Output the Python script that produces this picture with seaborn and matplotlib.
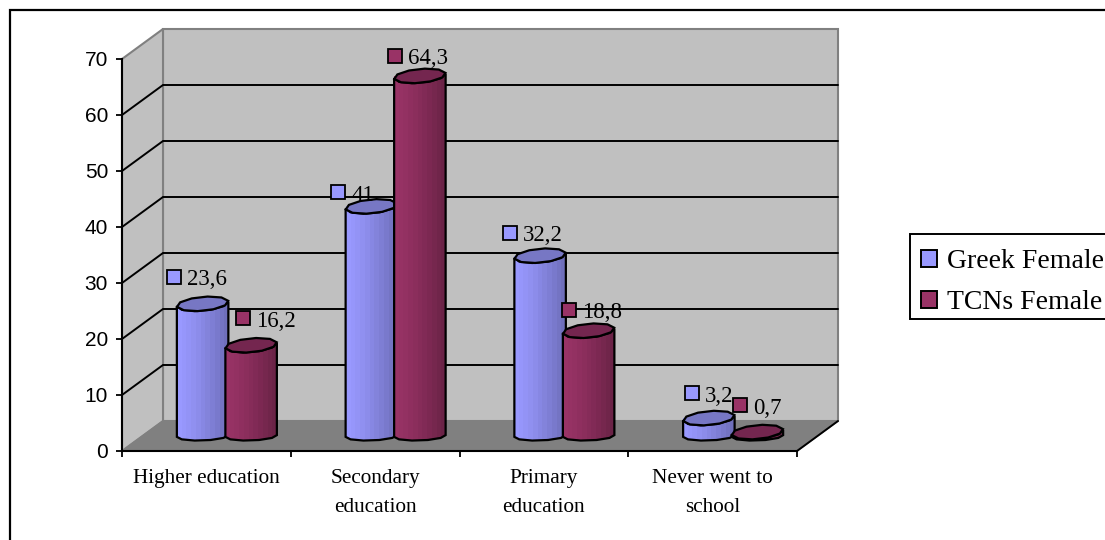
import numpy as np
import pandas as pd
import matplotlib
matplotlib.use("Agg")
import matplotlib.pyplot as plt
from matplotlib.patches import Polygon, Rectangle, Patch
from matplotlib.transforms import Affine2D
from matplotlib.colors import to_rgb
import seaborn as sns

# Education level of women, percent
categories = ["Higher education", "Secondary\neducation", "Primary\neducation", "Never went to\nschool"]
greek_female = [23.6, 41, 32.2, 3.2]
tcn_female = [16.2, 64.3, 18.8, 0.7]
series_names = ["Greek Female", "TCNs Female"]
value_labels = [["23,6", "41", "32,2", "3,2"], ["16,2", "64,3", "18,8", "0,7"]]
y_ticks = [0, 10, 20, 30, 40, 50, 60, 70]

# Placement of the value keys relative to each cylinder's top centre, in pixels
key_offsets = [[(-29, 27), (-33, 14), (-30, 23), (-17, 25)],
               [(-8, 27), (-25, 20), (-20, 21), (-17, 27)]]

W, H, DPI = 1105, 540, 100
LEFT, RIGHT, BASE, TOP = 122, 797, 451, 59
SERIF = "Liberation Serif"

sns.set_theme(style="white", rc={"axes.facecolor": "none"})
fig = plt.figure(figsize=(W / DPI, H / DPI), dpi=DPI, facecolor="white")
ax = fig.add_axes([LEFT / W, 1 - BASE / H, (RIGHT - LEFT) / W, (BASE - TOP) / H])

# Chart frame, running off the right and bottom of the canvas
fig.add_artist(Rectangle((10 / W, -0.1), 1.2, 1.1 - 10 / H, transform=fig.transFigure,
                         fill=False, ec="black", lw=1.6, zorder=-5))

frame = pd.DataFrame({
    "category": categories * 2,
    "series": np.repeat(series_names, len(categories)),
    "value": greek_female + tcn_female,
})
palette = {series_names[0]: "#9999FF", series_names[1]: "#993366"}
shades = {series_names[0]: ("#9999FF", "#6F6FBB", "#7777C4"),
          series_names[1]: ("#993366", "#6B2347", "#74264F")}

# Depth of the box in data units
px_x = 4 / (RIGHT - LEFT)
px_y = 70 / (BASE - TOP)
depth_x, depth_y = 41 * px_x, 30 * px_y
mid_x, mid_y = depth_x / 2, depth_y / 2

sns.barplot(data=frame, x="category", y="value", hue="series", order=categories,
            hue_order=series_names, palette=palette, width=0.575, gap=0, saturation=1,
            bottom=mid_y, linewidth=0, ax=ax, legend=False, zorder=3)
ax.set_xlim(-0.5, 3.5)
ax.set_ylim(0, 70)

# Walls and floor of the box
x0, x1 = -0.5, 3.5
wall = "#C0C0C0"
ax.add_patch(Polygon([(x0 + depth_x, depth_y), (x1 + depth_x, depth_y), (x1 + depth_x, 70 + depth_y),
                      (x0 + depth_x, 70 + depth_y)], fc=wall, ec="#808080", lw=1.5, clip_on=False, zorder=0))
ax.add_patch(Polygon([(x0, 0), (x0 + depth_x, depth_y), (x0 + depth_x, 70 + depth_y), (x0, 70)],
                     fc=wall, ec="#808080", lw=1.5, clip_on=False, zorder=0))
ax.add_patch(Polygon([(x0, 0), (x1, 0), (x1 + depth_x, depth_y), (x0 + depth_x, depth_y)],
                     fc="#808080", ec="#808080", lw=1, clip_on=False, zorder=0))
for tick in y_ticks[1:-1]:
    ax.plot([x0, x0 + depth_x, x1 + depth_x], [tick, tick + depth_y, tick + depth_y],
            color="black", lw=1.4, clip_on=False, zorder=1, solid_joinstyle="miter")
ax.plot([x1, x1 + depth_x], [0, depth_y], color="black", lw=1.4, clip_on=False, zorder=1)


def mix(a, b, t):
    return tuple((1 - t) * np.array(to_rgb(a)) + t * np.array(to_rgb(b)))


def ring(cx, cy, half_w, half_h, tilt):
    """Faceted ellipse, slightly tilted, as the cross-section of a cylinder."""
    angles = np.linspace(0, 2 * np.pi, 11)[:-1] + 0.12
    xs = cx + half_w * np.cos(angles)
    ys = cy + half_h * np.sin(angles) + tilt * np.cos(angles)
    return xs, ys


half_h = 7 * px_y
base_h = 4.5 * px_y
tilt = 2.2 * px_y
for s, (name, container) in enumerate(zip(series_names, ax.containers)):
    light, dark, cap = shades[name]
    for i, bar in enumerate(container):
        # Neighbouring cylinders overlap slightly
        centre = bar.get_x() + bar.get_width() / 2 + mid_x
        width = 51.5 * px_x
        bar.set_width(width)
        bar.set_x(centre - width / 2)
        left, cx = bar.get_x(), centre
        y_low, y_top = bar.get_y(), bar.get_y() + bar.get_height()
        half_w = width / 2
        order = 3 + s + 0.1 * i

        # Body: lower half of the base ring joined to the sides
        t = np.linspace(np.pi, 2 * np.pi, 6)
        low = np.c_[cx + half_w * np.cos(t), y_low + base_h * np.sin(t) + tilt * 0.4 * np.cos(t)]
        t_top = np.linspace(0, -np.pi, 6)
        high = np.c_[cx + half_w * np.cos(t_top), y_top + half_h * np.sin(t_top) + tilt * np.cos(t_top)]
        outline_points = np.vstack([low, high])
        body = Polygon(outline_points, closed=True, fc=light, ec="none", clip_on=False, zorder=order)
        ax.add_patch(body)

        # Banded shading across the body
        steps = np.linspace(0, 1, 11) ** 1.3
        strip = np.array([[mix(light, dark, v) for v in steps]])
        image = ax.imshow(strip, extent=(left, left + width, y_low - half_h * 1.3, y_top + half_h),
                          aspect="auto", interpolation="nearest", zorder=order + 0.01)
        image.set_clip_path(body)
        ax.add_patch(Polygon(outline_points, closed=True, fill=False, ec="black", lw=1.6,
                             clip_on=False, zorder=order + 0.02))

        # Top ring
        xs, ys = ring(cx, y_top, half_w, half_h, tilt)
        ax.add_patch(Polygon(np.c_[xs, ys], closed=True, fc=cap, ec="black", lw=1.6,
                             clip_on=False, zorder=order + 0.03))

        # Value key and label
        dx, dy = key_offsets[s][i]
        shift = Affine2D().translate(dx, dy)
        ax.plot([cx], [y_top], marker="s", ms=9.5, mfc=palette[name], mec="black", mew=1.3, ls="none",
                transform=ax.transData + shift, clip_on=False, zorder=10)
        ax.annotate(value_labels[s][i], xy=(cx, y_top), xycoords="data",
                    xytext=(dx + 13, dy - 3), textcoords="offset pixels", ha="left", va="center",
                    fontsize=16.5, family=SERIF, color="black", zorder=11, annotation_clip=False)

ax.set_xlim(-0.5, 3.5)
ax.set_ylim(0, 70)

# Axes
for side in ("top", "right"):
    ax.spines[side].set_visible(False)
for side in ("left", "bottom"):
    ax.spines[side].set_color("black")
    ax.spines[side].set_linewidth(1.5)
    ax.spines[side].set_zorder(2)
ax.set_yticks(y_ticks)
ax.set_xticks([-0.5, 0.5, 1.5, 2.5, 3.5], labels=[])
ax.set_xticks([0, 1, 2, 3], labels=categories, minor=True)
ax.tick_params(axis="y", which="major", left=True, length=4, width=1.3, color="black",
               labelsize=15, pad=6, labelcolor="black")
ax.tick_params(axis="x", which="major", bottom=True, length=4, width=1.3, color="black")
ax.tick_params(axis="x", which="minor", bottom=False, pad=9, labelsize=15.3, labelcolor="black")
for label in ax.get_yticklabels():
    label.set_family("Liberation Sans")
for label in ax.get_xticklabels(minor=True):
    label.set_family(SERIF)
    label.set_linespacing(1.7)
ax.set_xlabel("")
ax.set_ylabel("")

# Legend: a plain box with the entries placed inside it
fig.add_artist(Rectangle((910 / W, 1 - 319 / H), 300 / W, 85 / H, transform=fig.transFigure,
                         fc="white", ec="black", lw=1.4, zorder=5))
handles = [Patch(fc=palette[n], ec="black", lw=1.4) for n in series_names]
fig.legend(handles, series_names, loc="upper left", bbox_to_anchor=(921 / W, 1 - 249 / H),
           bbox_transform=fig.transFigure, borderaxespad=0, frameon=False, labelcolor="black",
           prop={"family": SERIF, "size": 20}, handlelength=0.58, handleheight=0.58,
           handletextpad=0.36, labelspacing=0.58, borderpad=0).set_zorder(6)

fig.savefig("out.png", dpi=DPI)
